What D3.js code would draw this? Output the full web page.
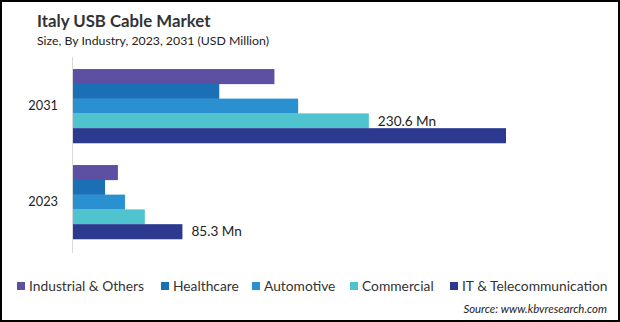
<!DOCTYPE html>
<html>
<head>
<meta charset="utf-8">
<script src="https://cdn.jsdelivr.net/npm/d3@7"></script>
<style>
  body { margin: 0; background: #fff; }
  svg { display: block; font-family: Lato, "Open Sans", sans-serif; }
</style>
</head>
<body>
<svg id="chart" width="620" height="322"></svg>
<script>
// data (USD Million)
const years = ['2031', '2023'];
const industries = ['Industrial & Others', 'Healthcare', 'Automotive', 'Commercial', 'IT & Telecommunication'];
const values2023 = [35, 25, 40.5, 56, 85.3];
const values2031 = [157, 114, 175.5, 230.6, 337.5];
const colors = ['#5d4fa1', '#1b6fb5', '#2b90d0', '#4fc4cf', '#2b3a8f'];
// which bar of each year carries a value label
const labelled = { '2031': 'Commercial', '2023': 'IT & Telecommunication' };

const byYear = { '2023': values2023, '2031': values2031 };
const rows = years.flatMap(y => industries.map((k, i) => ({ year: y, key: k, value: byYear[y][i] })));

const width = 620, height = 322;
const svg = d3.select('#chart');

// frame
svg.append('rect')
  .attr('x', 1).attr('y', 1)
  .attr('width', width - 2).attr('height', height - 2)
  .attr('fill', 'none').attr('stroke', '#000').attr('stroke-width', 2);

// titles
svg.append('text')
  .attr('x', 37).attr('y', 27)
  .attr('font-size', 16.8).attr('font-weight', 'bold').attr('fill', '#333')
  .text('Italy USB Cable Market');
svg.append('text')
  .attr('x', 37).attr('y', 45)
  .attr('font-size', 12.3).attr('fill', '#222')
  .text('Size, By Industry, 2023, 2031 (USD Million)');

const x0 = 73;
const x = d3.scaleLinear().domain([0, 100]).range([x0, x0 + 128.3]);

const y = d3.scaleBand()
  .domain(years)
  .range([58, 250])
  .paddingInner(0.23)
  .paddingOuter(0.115);

const ySub = d3.scaleBand()
  .domain(industries)
  .range([0, y.bandwidth()]);

const color = d3.scaleOrdinal().domain(industries).range(colors);

// bars
svg.append('g')
  .selectAll('rect')
  .data(rows)
  .join('rect')
  .attr('x', x(0))
  .attr('y', d => y(d.year) + ySub(d.key))
  .attr('width', d => x(d.value) - x(0))
  .attr('height', ySub.bandwidth() + 0.3)
  .attr('fill', d => color(d.key));

// y axis (line only, labels on the left)
const yAxis = svg.append('g')
  .attr('transform', `translate(${x0},0)`)
  .call(d3.axisLeft(y).tickSize(0).tickPadding(15));
yAxis.select('.domain').remove();
yAxis.selectAll('text').attr('font-size', 12.8).attr('fill', '#222').attr('font-family', 'Lato, sans-serif');
svg.append('line')
  .attr('x1', x0 - 0.5).attr('x2', x0 - 0.5)
  .attr('y1', 57).attr('y2', 253)
  .attr('stroke', '#d9d9d9').attr('stroke-width', 1);

// value labels
svg.append('g')
  .selectAll('text')
  .data(rows.filter(d => labelled[d.year] === d.key))
  .join('text')
  .attr('x', d => x(d.value) + 9)
  .attr('y', d => y(d.year) + ySub(d.key) + ySub.bandwidth() / 2 + 4.8)
  .attr('font-size', 13.6).attr('fill', '#222')
  .text(d => `${d.value} Mn`);

// legend
const legendX = [17, 161, 252, 350, 450];
const legend = svg.append('g')
  .selectAll('g')
  .data(industries)
  .join('g')
  .attr('transform', (d, i) => `translate(${legendX[i]},282)`);
legend.append('rect')
  .attr('width', 8).attr('height', 8)
  .attr('fill', d => color(d));
legend.append('text')
  .attr('x', 12).attr('y', 9)
  .attr('font-size', 13.8).attr('fill', '#333')
  .text(d => d);

// source
svg.append('text')
  .attr('x', 607).attr('y', 313)
  .attr('text-anchor', 'end')
  .attr('font-size', 11.4).attr('font-style', 'italic').attr('fill', '#222')
  .text('Source: www.kbvresearch.com');
</script>
</body>
</html>
